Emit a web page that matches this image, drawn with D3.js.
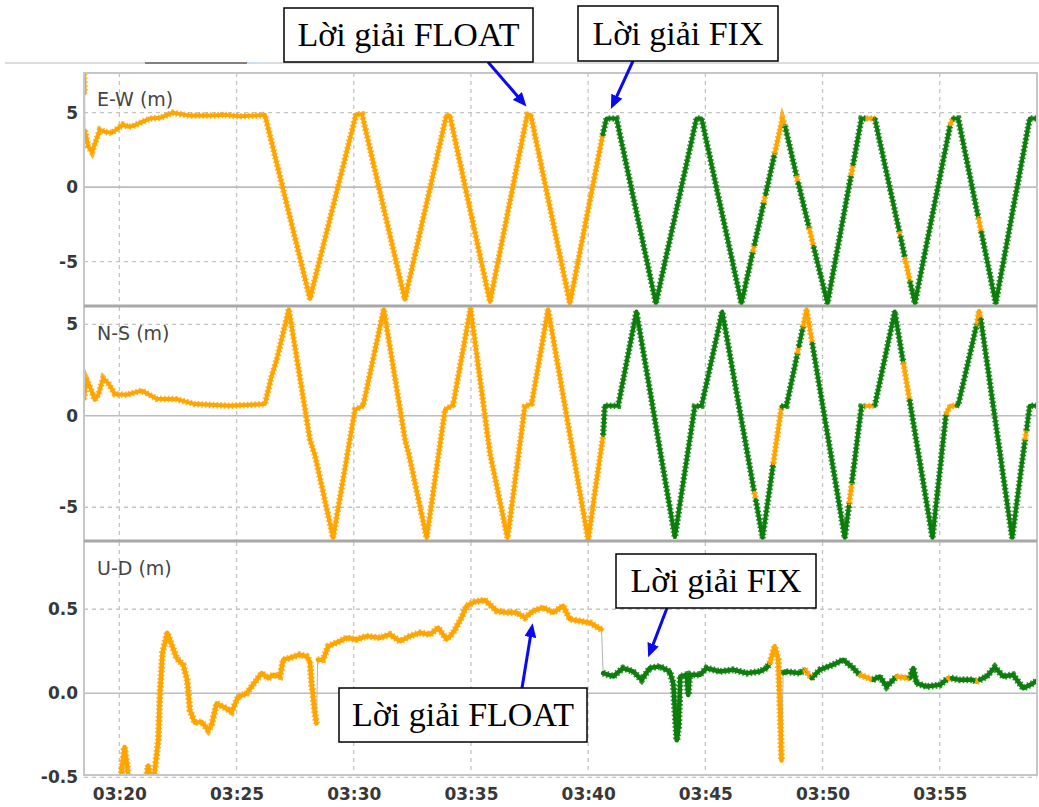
<!DOCTYPE html>
<html>
<head>
<meta charset="utf-8">
<script src="https://cdn.jsdelivr.net/npm/d3@7"></script>
<style>
  body { margin: 0; background: #fff; }
  svg { display: block; }
</style>
</head>
<body>
<svg id="chart" width="1039" height="807"></svg>
<script>
// each point: [minute after 03:00, metres, solution]  solution 1 = FIX, 2 = FLOAT, 0 = gap (thin grey link only)
var ewData = [
  [18.49, 7.6, 2], [18.52, 6.3, 0], [18.53, 3.8, 2], [18.66, 2.75, 2], [18.83, 2.35, 2],
  [19.17, 3.85, 2], [19.40, 3.7, 2], [19.68, 3.65, 2], [20.15, 4.2, 2], [20.40, 4.05, 2],
  [20.58, 4.1, 2], [21.00, 4.4, 2], [21.30, 4.6, 2], [21.73, 4.65, 2], [22.28, 5.0, 2],
  [22.60, 4.9, 2], [23.01, 4.8, 2], [23.99, 4.8, 2], [24.50, 4.85, 2], [25.14, 4.75, 2],
  [25.80, 4.8, 2], [26.21, 4.85, 2], [28.13, -7.5, 2], [30.10, 4.9, 2], [30.35, 4.9, 2],
  [32.18, -7.55, 2], [33.95, 4.8, 2], [34.10, 4.8, 2], [35.81, -7.7, 2], [37.40, 4.85, 2],
  [37.55, 4.85, 2], [39.22, -7.8, 2], [40.62, 3.5, 1], [40.78, 4.6, 1], [41.21, 4.6, 1],
  [42.89, -7.8, 1], [44.62, 4.6, 1], [44.84, 4.6, 1], [46.54, -7.8, 1],
  [47.03, -4.3, 2], [47.09, -3.9, 1], [47.50, -1.0, 2], [47.57, -0.5, 1], [47.96, 2.28, 2],
  [48.29, 4.6, 2], [48.40, 4.1, 1], [48.89, 0.75, 2], [48.96, 0.3, 1], [49.43, -2.75, 2],
  [49.62, -4.0, 1], [50.21, -7.8, 1], [51.22, 0.83, 2], [51.30, 1.5, 1], [51.66, 4.6, 1],
  [51.88, 4.6, 2], [52.23, 4.6, 1], [53.28, -3.0, 2], [53.32, -3.3, 1], [53.52, -4.77, 2],
  [53.73, -6.33, 1], [53.94, -7.8, 1], [55.45, 4.2, 2], [55.56, 4.6, 1], [55.79, 4.6, 1],
  [56.65, -2.08, 2], [56.77, -2.98, 1], [57.39, -7.8, 1], [58.84, 4.6, 1], [59.30, 4.6, 1]
];

var nsData = [
  [18.49, 0.9, 2], [18.60, 1.97, 2], [18.74, 1.6, 2], [18.95, 0.87, 2], [19.10, 1.15, 2],
  [19.31, 2.06, 2], [19.52, 1.79, 2], [19.81, 1.18, 2], [20.31, 1.15, 2], [20.95, 1.38, 2],
  [21.59, 0.93, 2], [22.44, 0.91, 2], [23.22, 0.64, 2], [24.71, 0.55, 2], [26.21, 0.64, 2],
  [26.49, 2.15, 2], [26.71, 3.06, 2], [27.23, 5.83, 2], [28.13, -1.31, 2], [28.34, -2.13, 2],
  [29.12, -6.68, 2], [30.05, 0.33, 2], [30.40, 0.55, 2], [31.28, 5.83, 2], [32.20, -1.4, 2],
  [32.35, -2.1, 2], [33.11, -6.68, 2], [33.89, 0.33, 2], [34.24, 0.60, 2], [34.98, 5.88, 2],
  [35.81, -2.04, 2], [36.56, -6.68, 2], [37.30, 0.51, 2], [37.59, 0.66, 2], [38.29, 5.83, 2],
  [40.00, -6.78, 2], [40.64, -1.04, 1], [40.71, 0.55, 1], [41.28, 0.55, 1], [42.06, 5.70, 1],
  [43.70, -6.63, 1], [44.55, 0.51, 1], [44.84, 0.55, 1], [45.72, 5.70, 1], [47.09, -4.2, 2],
  [47.15, -4.6, 1], [47.44, -6.68, 1], [47.90, -2.59, 2], [48.25, 0.51, 1], [48.46, 0.55, 1],
  [48.93, 3.4, 2], [48.99, 3.8, 1], [49.17, 4.88, 2], [49.32, 5.83, 2],
  [49.56, 3.97, 1], [50.95, -6.68, 1], [51.14, -4.77, 2], [51.25, -3.68, 1], [51.66, 0.51, 1],
  [51.80, 0.53, 2], [52.23, 0.55, 1], [53.08, 5.70, 1], [53.45, 2.88, 2], [53.71, 0.87, 1],
  [54.69, -6.68, 1], [55.27, 0.1, 2], [55.45, 0.55, 2], [55.72, 0.55, 1], [55.79, 0.6, 1],
  [56.58, 5.0, 2], [56.68, 5.75, 2], [56.75, 5.3, 1], [58.09, -6.68, 1], [58.64, -1.3, 2],
  [58.70, -0.8, 1], [58.84, 0.55, 1], [59.30, 0.55, 1]
];

var udData = [
  [19.95, -0.7, 2], [20.10, -0.45, 2], [20.22, -0.32, 2], [20.35, -0.45, 2], [20.50, -0.7, 2],
  [21.05, -0.7, 2], [21.15, -0.5, 2], [21.23, -0.43, 2], [21.33, -0.5, 2], [21.42, -0.6, 2],
  [21.51, -0.46, 2], [21.66, -0.28, 2], [21.73, 0.0, 2], [21.84, 0.24, 2], [22.04, 0.36, 2],
  [22.23, 0.29, 2], [22.44, 0.21, 2], [22.72, 0.17, 2], [22.89, 0.08, 2], [23.01, -0.10, 2],
  [23.22, -0.175, 2], [23.51, -0.17, 2], [23.79, -0.22, 2], [23.93, -0.19, 2], [24.15, -0.06, 2],
  [24.43, -0.08, 2], [24.79, -0.11, 2], [25.07, -0.02, 2], [25.43, 0.0, 2], [25.64, 0.04, 2],
  [26.07, 0.12, 2], [26.35, 0.09, 2], [26.56, 0.11, 2], [26.85, 0.10, 2], [26.99, 0.20, 2],
  [27.27, 0.21, 2], [27.70, 0.23, 2], [27.99, 0.22, 2], [28.13, 0.19, 2], [28.20, 0.06, 2],
  [28.34, -0.12, 2], [28.41, -0.18, 0], [28.46, 0.20, 2], [28.69, 0.20, 2], [28.91, 0.28, 2],
  [29.41, 0.31, 2], [29.69, 0.33, 2], [30.12, 0.32, 2], [30.55, 0.34, 2], [31.11, 0.33, 2],
  [31.54, 0.35, 2], [31.97, 0.31, 2], [32.39, 0.34, 2], [32.82, 0.36, 2], [33.25, 0.35, 2],
  [33.60, 0.39, 2], [33.96, 0.32, 2], [34.24, 0.36, 2], [34.60, 0.45, 2], [34.81, 0.52, 2],
  [35.17, 0.545, 2], [35.59, 0.555, 2], [36.09, 0.49, 2], [36.52, 0.48, 2], [36.95, 0.48, 2],
  [37.30, 0.45, 2], [37.65, 0.49, 2], [38.08, 0.51, 2], [38.51, 0.48, 2], [38.93, 0.52, 2],
  [39.22, 0.44, 2], [39.65, 0.43, 2], [40.07, 0.42, 2], [40.43, 0.39, 2], [40.57, 0.38, 0],
  [40.64, 0.12, 1], [41.07, 0.10, 1], [41.49, 0.15, 1], [41.92, 0.13, 1], [42.28, 0.08, 1],
  [42.63, 0.15, 1], [43.06, 0.16, 1], [43.48, 0.13, 1], [43.63, 0.06, 1], [43.78, -0.28, 1],
  [43.86, -0.20, 1], [43.93, 0.10, 1], [44.20, 0.11, 1], [44.27, -0.01, 1], [44.33, 0.11, 1],
  [44.77, 0.11, 1], [45.05, 0.15, 1], [45.62, 0.13, 1], [46.19, 0.14, 1], [46.76, 0.12, 1],
  [47.33, 0.13, 1], [47.61, 0.15, 1], [47.75, 0.18, 2], [47.96, 0.28, 2], [48.11, 0.20, 2],
  [48.18, -0.06, 2], [48.25, -0.40, 0], [48.32, 0.12, 1], [48.39, 0.13, 1], [49.03, 0.12, 1],
  [49.24, 0.14, 2], [49.53, 0.09, 1], [49.89, 0.14, 1], [50.45, 0.17, 1], [50.88, 0.20, 1],
  [51.31, 0.15, 1], [51.59, 0.11, 2], [52.16, 0.08, 1], [52.44, 0.10, 1], [52.73, 0.04, 1],
  [53.01, 0.08, 1], [53.16, 0.10, 2], [53.72, 0.09, 1], [53.87, 0.15, 1], [54.01, 0.06, 1],
  [54.44, 0.04, 1], [55.00, 0.05, 1], [55.36, 0.09, 2], [55.50, 0.09, 1], [55.86, 0.08, 1],
  [56.42, 0.08, 1], [56.57, 0.07, 2], [56.71, 0.08, 1], [57.00, 0.10, 1], [57.35, 0.155, 1],
  [57.71, 0.10, 1], [58.13, 0.11, 1], [58.56, 0.03, 1], [58.99, 0.06, 1], [59.20, 0.08, 1]
];

var timeTicks = [20, 25, 30, 35, 40, 45, 50, 55];
var ewTicks = [-5, 0, 5];
var nsTicks = [-5, 0, 5];
var udTicks = [-0.5, 0, 0.5];
var ewExtent = [-7.91, 7.66];
var nsExtent = [-6.79, 5.95];
var udExtent = [-0.486, 0.90];
var titles = ["E-W (m)", "N-S (m)", "U-D (m)"];

// annotation labels and the point each arrow points to: [panel, minute, metres]
var noteLabels = ["Lời giải FLOAT", "Lời giải FIX", "Lời giải FIX", "Lời giải FLOAT"];
var noteTargets = [[0, 37.37, 5.41], [0, 40.97, 5.25], [2, 42.56, 0.214], [2, 37.63, 0.417]];

// layout
var left = 84, right = 1037;
var panels = [
  { data: ewData, ticks: ewTicks, ext: ewExtent, top: 73, bottom: 305, w: 5 },
  { data: nsData, ticks: nsTicks, ext: nsExtent, top: 307, bottom: 540, w: 5 },
  { data: udData, ticks: udTicks, ext: udExtent, top: 542, bottom: 775, w: 5.5 }
];
// box x, y, w, h and arrow start x, y
var noteBoxes = [
  [284, 8, 249, 54, 488, 62],
  [578, 6, 200, 55, 633, 61],
  [616, 554, 200, 54, 667, 608],
  [339, 688, 248, 54, 522, 688]
];
var solColor = { 1: "#0d7e0d", 2: "#ffa500" };

var svg = d3.select("#chart");

// window strip above the plot
svg.append("line").attr("x1", 5).attr("x2", 1039).attr("y1", 63).attr("y2", 63)
  .attr("stroke", "#dcdcdc").attr("stroke-width", 2);
svg.append("line").attr("x1", 145).attr("x2", 247).attr("y1", 63).attr("y2", 63)
  .attr("stroke", "#808080").attr("stroke-width", 2);
svg.append("line").attr("x1", 250).attr("x2", 267).attr("y1", 63).attr("y2", 63)
  .attr("stroke", "#cfe0f0").attr("stroke-width", 2);

var x = d3.scaleLinear().domain([18.49, 59.15]).range([left, right]);

var defs = svg.append("defs");

// split a series into runs of the same solution type
function runs(data) {
  var out = [], cur = null;
  for (var i = 0; i < data.length - 1; i++) {
    var q = data[i][2];
    if (q === 0) { cur = null; continue; }
    if (!cur || cur.q !== q) { cur = { q: q, pts: [data[i]] }; out.push(cur); }
    cur.pts.push(data[i + 1]);
  }
  return out;
}

var yScales = [];

panels.forEach(function (p, i) {
  var y = d3.scaleLinear().domain(p.ext).range([p.bottom, p.top]);
  yScales.push(y);

  defs.append("clipPath").attr("id", "clip" + i)
    .append("rect").attr("x", left).attr("y", p.top)
    .attr("width", right - left).attr("height", p.bottom - p.top);

  var g = svg.append("g");

  // grid
  g.selectAll(".vg").data(timeTicks).enter().append("line")
    .attr("x1", function (d) { return x(d); }).attr("x2", function (d) { return x(d); })
    .attr("y1", p.top).attr("y2", p.bottom)
    .attr("stroke", "#c4c4c4").attr("stroke-width", 1.3).attr("stroke-dasharray", "4,4");
  g.selectAll(".hg").data(p.ticks).enter().append("line")
    .attr("x1", left).attr("x2", right)
    .attr("y1", function (d) { return y(d); }).attr("y2", function (d) { return y(d); })
    .attr("stroke", function (d) { return d === 0 ? "#bdbdbd" : "#c4c4c4"; })
    .attr("stroke-width", function (d) { return d === 0 ? 1.6 : 1.3; })
    .attr("stroke-dasharray", function (d) { return d === 0 ? null : "4,4"; });

  var line = d3.line().x(function (d) { return x(d[0]); }).y(function (d) { return y(d[1]); });
  var plot = g.append("g").attr("clip-path", "url(#clip" + i + ")");

  // thin link through every epoch
  plot.append("path").attr("d", line(p.data))
    .attr("fill", "none").attr("stroke", "#b4b4b4").attr("stroke-width", 1);

  var rr = runs(p.data);
  // solid core of the marker trail
  plot.selectAll(".core").data(rr).enter().append("path")
    .attr("d", function (r) { return line(r.pts); })
    .attr("fill", "none")
    .attr("stroke", function (r) { return solColor[r.q]; })
    .attr("stroke-width", p.w - 1)
    .attr("stroke-linejoin", "round")
    .attr("stroke-linecap", "round");
  // ragged rim, like the "+" markers
  plot.selectAll(".rim").data(rr).enter().append("path")
    .attr("d", function (r) { return line(r.pts); })
    .attr("fill", "none")
    .attr("stroke", function (r) { return solColor[r.q]; })
    .attr("stroke-opacity", 0.85)
    .attr("stroke-width", p.w + 1.5)
    .attr("stroke-dasharray", "1.6,2.2");

  // y axis labels
  var ya = g.append("g").attr("transform", "translate(" + left + ",0)")
    .call(d3.axisLeft(y).tickValues(p.ticks).tickSize(0).tickPadding(6)
      .tickFormat(function (d) { return i === 2 ? d.toFixed(1) : String(d); }));
  ya.select(".domain").remove();
  ya.selectAll("text").attr("font-family", "DejaVu Sans").attr("font-weight", "bold")
    .attr("font-size", 17).attr("fill", "#383838");

  g.append("text").attr("x", left + 13).attr("y", p.top + 33)
    .attr("font-family", "DejaVu Sans").attr("font-size", 19).attr("fill", "#454545")
    .text(titles[i]);
});

// frame
svg.append("rect").attr("x", left).attr("y", 73).attr("width", right - left).attr("height", 775 - 73)
  .attr("fill", "none").attr("stroke", "#c6c6c6").attr("stroke-width", 2);
[306, 541].forEach(function (yy) {
  svg.append("line").attr("x1", left).attr("x2", right).attr("y1", yy).attr("y2", yy)
    .attr("stroke", "#a8a8a8").attr("stroke-width", 3);
});

// time axis
var xa = svg.append("g").attr("transform", "translate(0,775)")
  .call(d3.axisBottom(x).tickValues(timeTicks).tickSize(0).tickPadding(13)
    .tickFormat(function (d) { return "03:" + d; }));
xa.select(".domain").remove();
xa.selectAll("text").attr("font-family", "DejaVu Sans").attr("font-weight", "bold")
  .attr("font-size", 17).attr("fill", "#383838");

// annotations
defs.append("marker").attr("id", "head").attr("viewBox", "0 0 14 12")
  .attr("refX", 2).attr("refY", 6).attr("markerWidth", 14).attr("markerHeight", 12)
  .attr("markerUnits", "userSpaceOnUse").attr("orient", "auto")
  .append("path").attr("d", "M0,0 L14,6 L0,12 Z").attr("fill", "#0a0af0");

noteLabels.forEach(function (label, k) {
  var b = noteBoxes[k], tg = noteTargets[k];
  var tx = x(tg[1]), ty = yScales[tg[0]](tg[2]);
  var dx = tx - b[4], dy = ty - b[5], len = Math.sqrt(dx * dx + dy * dy);
  svg.append("line").attr("x1", b[4]).attr("y1", b[5])
    .attr("x2", tx - dx / len * 12).attr("y2", ty - dy / len * 12)
    .attr("stroke", "#0a0af0").attr("stroke-width", 3).attr("marker-end", "url(#head)");
  svg.append("rect").attr("x", b[0]).attr("y", b[1]).attr("width", b[2]).attr("height", b[3])
    .attr("fill", "#fff").attr("stroke", "#000").attr("stroke-width", 1.5);
  svg.append("text").attr("x", b[0] + b[2] / 2).attr("y", b[1] + b[3] / 2 + 11)
    .attr("text-anchor", "middle").attr("font-family", "Liberation Serif")
    .attr("font-size", 34).attr("fill", "#000").text(label);
});
</script>
</body>
</html>
